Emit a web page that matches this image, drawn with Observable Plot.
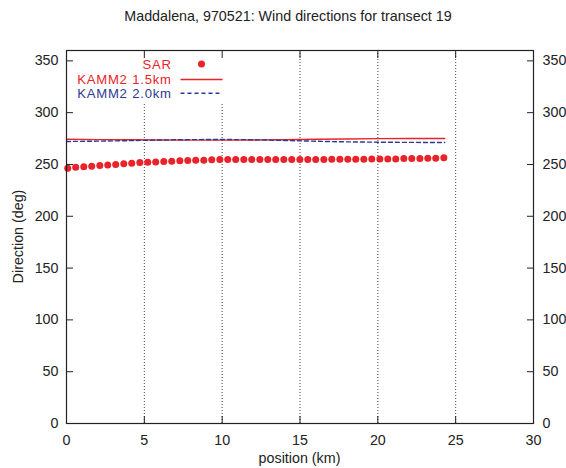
<!DOCTYPE html>
<html>
<head>
<meta charset="utf-8">
<script src="https://cdn.jsdelivr.net/npm/d3@7"></script>
<script src="https://cdn.jsdelivr.net/npm/@observablehq/plot@0.6"></script>
<style>
  html, body { margin: 0; padding: 0; background: #fff; }
  svg { display: block; }
</style>
</head>
<body>
<div id="chart"></div>
<script>
const title = "Maddalena, 970521: Wind directions for transect 19";
const xLabel = "position (km)";
const yLabel = "Direction (deg)";
const xTicks = [0, 5, 10, 15, 20, 25, 30];
const yTicks = [0, 50, 100, 150, 200, 250, 300, 350];
const gridX = [5, 10, 15, 20, 25];

const sarX = [0.08,0.59,1.11,1.62,2.14,2.65,3.16,3.68,4.19,4.71,5.22,5.73,6.25,6.76,7.28,7.79,8.30,8.82,9.33,9.85,10.36,10.87,11.39,11.90,
  12.42,12.93,13.44,13.96,14.47,14.99,15.50,16.01,16.53,17.04,17.56,18.07,18.58,19.10,19.61,20.13,20.64,21.15,21.67,22.18,22.70,23.21,23.72,24.24];
const sarY = [246.4,247.4,247.7,248.4,249.0,249.6,250.0,250.6,251.2,251.9,252.2,252.5,252.9,253.2,253.5,253.8,254.1,254.1,254.5,254.8,254.8,254.8,254.8,254.8,
  254.8,254.8,254.8,254.8,254.8,254.8,254.8,254.8,254.8,255.1,255.1,255.1,255.1,255.1,255.4,255.4,255.4,255.4,255.7,255.7,255.7,256.1,256.1,256.4];

const kammX = [0, 2, 4, 6, 8, 10, 12, 14, 16, 18, 20, 22, 24.3];
const kamm15 = [274.3,274.0,273.8,273.6,273.5,273.5,273.6,273.9,274.3,274.6,274.9,275.0,275.1];
const kamm20 = [272.2,272.5,273.0,273.6,274.0,274.1,273.9,273.2,272.4,271.8,271.5,271.3,271.2];

const seriesNames = ["SAR", "KAMM2 1.5km", "KAMM2 2.0km"];
const red = "#ea2229";
const blue = "#2e3a92";
const font = "'Liberation Sans', Arial, Helvetica, sans-serif";
const fs = 14.3;
const keyFs = 13.1;

const sar = sarX.map((x, i) => ({x, y: sarY[i]}));
const k15 = kammX.map((x, i) => ({x, y: kamm15[i]}));
const k20 = kammX.map((x, i) => ({x, y: kamm20[i]}));

const W = 566, H = 468, mL = 66, mR = 33, mT = 50, mB = 45;

const svg = Plot.plot({
  width: W, height: H,
  marginLeft: mL, marginRight: mR, marginTop: mT, marginBottom: mB,
  style: {fontFamily: font, fontSize: fs + "px", color: "#222", background: "#fff"},
  x: {domain: [0, 30], label: null},
  y: {domain: [0, 360], label: null},
  marks: [
    Plot.ruleX(gridX, {stroke: "#444", strokeWidth: 1, strokeDasharray: "1,2"}),
    Plot.line(k15, {x: "x", y: "y", stroke: red, strokeWidth: 1.4}),
    Plot.line(k20, {x: "x", y: "y", stroke: blue, strokeWidth: 1.4, strokeDasharray: "4,3"}),
    Plot.dot(sar, {x: "x", y: "y", r: 3.5, fill: red, stroke: "none"}),
    Plot.axisX(xTicks, {anchor: "bottom", tickSize: -7, tickPadding: 18, label: null, stroke: "#222"}),
    Plot.axisX(xTicks, {anchor: "top", tickSize: -7, tickFormat: () => "", label: null, stroke: "#222"}),
    Plot.axisY(yTicks, {anchor: "left", tickSize: -7, tickPadding: 15, label: null, stroke: "#222"}),
    Plot.axisY(yTicks, {anchor: "right", tickSize: -7, tickPadding: 16, label: null, stroke: "#222"}),
    Plot.frame({stroke: "#222", strokeWidth: 1.2})
  ]
});

const s = d3.select(svg);
// opaque key box (behind data and axes, above grid)
s.insert("rect", "g[aria-label='line']")
  .attr("x", 67).attr("y", 51).attr("width", 159).attr("height", 53).attr("fill", "#fff");
// title
s.append("text").attr("x", 288).attr("y", 20.7)
  .attr("text-anchor", "middle").attr("font-family", font).attr("font-size", fs).attr("fill", "#222")
  .text(title);
// x label
s.append("text").attr("x", (mL + W - mR) / 2).attr("y", 463)
  .attr("text-anchor", "middle").attr("font-family", font).attr("font-size", fs).attr("fill", "#222")
  .text(xLabel);
// y label
s.append("text").attr("transform", `translate(22.5,${(mT + H - mB) / 2}) rotate(-90)`)
  .attr("text-anchor", "middle").attr("font-family", font).attr("font-size", fs).attr("fill", "#222")
  .text(yLabel);

// legend (key)
const keyColors = [red, red, blue];
const keyBase = [68.8, 83.6, 98.4];
const keyMid = [64, 79.5, 93.2];
const g = s.append("g").attr("font-family", font).attr("font-size", keyFs).attr("letter-spacing", "0.8px");
seriesNames.forEach((name, i) => {
  g.append("text").attr("x", 171.8).attr("y", keyBase[i])
    .attr("text-anchor", "end").attr("fill", keyColors[i]).text(name);
});
g.append("circle").attr("cx", 201.5).attr("cy", keyMid[0]).attr("r", 3.5).attr("fill", red);
g.append("line").attr("x1", 180.5).attr("x2", 222.5).attr("y1", keyMid[1]).attr("y2", keyMid[1])
  .attr("stroke", red).attr("stroke-width", 1.4);
g.append("line").attr("x1", 180.5).attr("x2", 221).attr("y1", keyMid[2]).attr("y2", keyMid[2])
  .attr("stroke", blue).attr("stroke-width", 1.4).attr("stroke-dasharray", "4,3");

document.getElementById("chart").appendChild(svg);
</script>
</body>
</html>
